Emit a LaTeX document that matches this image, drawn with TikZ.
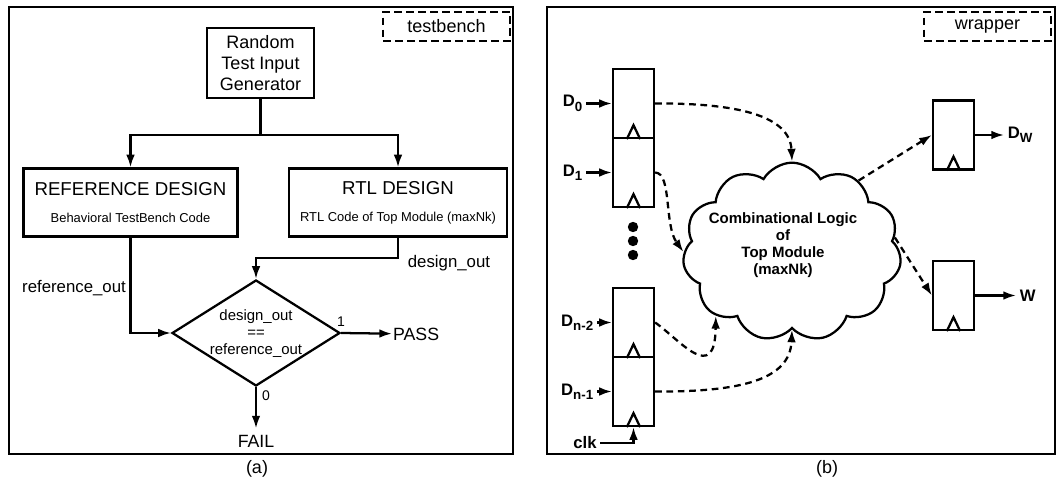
\documentclass[tikz,border=0pt]{standalone}
\usepackage{fontspec}
\setmainfont{Liberation Sans}
\usetikzlibrary{arrows.meta,shapes.geometric,shapes.symbols,calc}

% lowered, smaller index for signal names
\newcommand\lowsub[1]{\raisebox{-0.5ex}{\fontsize{10}{10}\selectfont #1}}

\begin{document}
\begin{tikzpicture}[x=0.75pt,y=-0.75pt,line width=1.7pt,
  tip/.style={-{Latex[length=9.5pt,width=6.5pt]}},
  box/.style={draw,rectangle,inner sep=0pt,align=center},
  tag/.style={draw,dash pattern=on 5.5pt off 3.5pt,inner sep=0pt,
    minimum width=95pt,minimum height=21.75pt,font=\fontsize{13.5}{16}\selectfont},
  ff/.style={draw,rectangle,minimum width=30.75pt,minimum height=51.75pt,inner sep=0pt},
  dsh/.style={dash pattern=on 5pt off 3.5pt},
  lbl/.style={font=\fontsize{12.6}{15}\selectfont,inner sep=1pt},
  sig/.style={font=\fontsize{12.5}{14}\selectfont\bfseries,inner sep=2pt},
  subcap/.style={font=\fontsize{13.5}{15}\selectfont}
]
\useasboundingbox (0,0) rectangle (1057,488);
\fill[white] (0,0) rectangle (1057,488);

% ---------------- (a) testbench ----------------
\draw (9,7) rectangle (513,454);
\node[tag] (tb) at (446.5,26.5) {testbench};

\node[box,minimum width=80.25pt,minimum height=52.5pt,
  font=\fontsize{13.5}{15.75}\selectfont] (rng) at (260.5,63) {Random\\Test Input\\Generator};
\node[box,minimum width=160.5pt,minimum height=51pt] (refd) at (130.5,202.5)
  {\fontsize{14}{16}\selectfont REFERENCE DESIGN\\[8pt]\fontsize{9.7}{11}\selectfont Behavioral TestBench Code};
\node[box,minimum width=163.5pt,minimum height=51pt] (rtl) at (398,202.5)
  {\fontsize{14}{16}\selectfont RTL DESIGN\\[8pt]\fontsize{9.7}{11}\selectfont RTL Code of Top Module (maxNk)};

\node[diamond,draw,minimum width=126pt,minimum height=79.5pt,inner sep=0pt] (cmp) at (256,333) {};
\node[align=center,inner sep=0pt,font=\fontsize{11.2}{12.75}\selectfont] (cmptxt) at (256,334)
  {design\_out\\==\\reference\_out};

\coordinate (split) at (260.5,135);
\coordinate (bend) at (256,258);
\draw (rng) -- (split);
\draw[tip] (split) -| (refd);
\draw[tip] (split) -| (rtl);
\draw[tip] (refd) |- (cmp.west);
\draw[tip] (rtl) |- (bend) -- (cmp.north);

\node[lbl] (rlab) at (74,288) {reference\_out};
\node[lbl] (dlab) at (449,263) {design\_out};

\node[font=\fontsize{13.3}{16}\selectfont,inner sep=0pt,anchor=west] (pass) at (392,334) {PASS};
\node[font=\fontsize{13.3}{16}\selectfont,inner sep=0pt] (fail) at (256,441) {FAIL};
\draw[tip] (cmp.east) -- (pass);
\draw[tip] (cmp.south) -- ([yshift=4pt]fail.north);
\node[font=\fontsize{10.5}{12}\selectfont,inner sep=0pt] (one) at (341,322) {1};
\node[font=\fontsize{10.5}{12}\selectfont,inner sep=0pt] (zero) at (266,396) {0};

\node[subcap] (capa) at (257,469) {(a)};

% ---------------- (b) wrapper ----------------
\draw (547,7) rectangle (1055,454);
\node[tag] (wr) at (987.5,26.5) {wrapper};

\node[ff] (ff0) at (633.5,103.5) {};
\node[ff] (ff1) at (633.5,172.5) {};
\node[ff] (ffn2) at (633.5,322.5) {};
\node[ff] (ffn1) at (633.5,391.5) {};
\node[ff] (ffw) at (953.5,135) {};
\node[ff] (ffv) at (953.5,295.5) {};
\foreach \f in {ff0,ff1,ffn2,ffn1,ffw,ffv}
  \draw ([xshift=-5pt]\f.south) -- ([yshift=10.5pt]\f.south) -- ([xshift=5pt]\f.south);

\foreach \yy in {227,241,255}
  \fill (633,\yy) circle (3.9pt);

\node[sig,anchor=east] (d0) at (586,103.5) {D\lowsub{0}};
\node[sig,anchor=east] (d1) at (586,172.5) {D\lowsub{1}};
\node[sig,anchor=east] (dn2) at (597,322.5) {D\lowsub{n-2}};
\node[sig,anchor=east] (dn1) at (597,391.5) {D\lowsub{n-1}};
\node[sig] (clk) at (585,443) {clk};
\node[sig,anchor=west] (dw) at (1004,135) {D\lowsub{W}};
\node[sig,anchor=west] (w) at (1016,295.5) {W};

\draw[tip] (d0) -- (ff0);
\draw[tip] (d1) -- (ff1);
\draw[tip] (dn2) -- (ffn2);
\draw[tip] (dn1) -- (ffn1);
\draw[tip] (clk) -| (ffn1.south);
\draw[tip] (ffw) -- (dw);
\draw[tip] (ffv) -- (w);

\node[cloud,draw,cloud puffs=11,cloud puff arc=120,cloud ignores aspect,
  minimum width=164pt,minimum height=134pt,inner sep=0pt] (cl) at (792,252) {};
\node[align=center,inner sep=0pt,font=\fontsize{11.25}{12.75}\selectfont\bfseries] (cltxt) at (783,245)
  {Combinational Logic\\of\\Top Module\\(maxNk)};

\draw[dsh,tip] (ff0.east) .. controls (735,103) and (790,115) .. (cl.north);
\draw[dsh,tip] (ff1.east) .. controls (672,173) and (664,225) .. (cl.west);
\draw[dsh,tip] (ffn2.east) .. controls (680,340) and (715,385) .. (cl.220);
\draw[dsh,tip] (ffn1.east) .. controls (740,392) and (790,380) .. (cl.south);
\draw[dsh,tip] (cl.47) -- (ffw.west);
\draw[dsh,tip] (cl.8) -- (ffv.west);

\node[subcap] (capb) at (827,469) {(b)};
\end{tikzpicture}
\end{document}
